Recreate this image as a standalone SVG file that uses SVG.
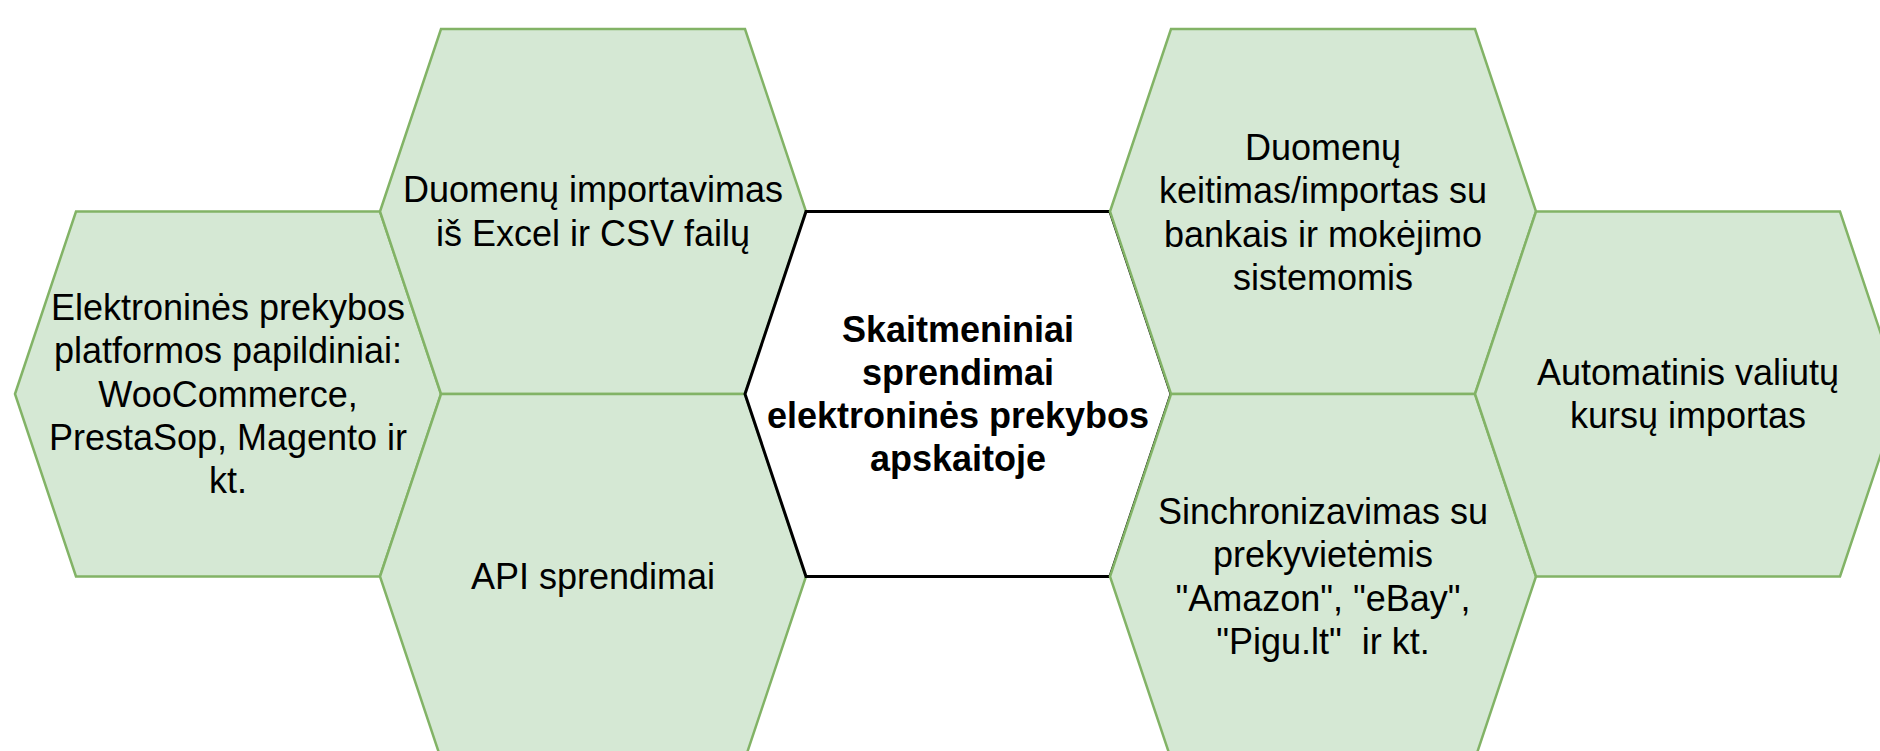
<svg xmlns="http://www.w3.org/2000/svg" width="1880" height="751" viewBox="0 0 1880 751">
<style>
.hex{fill:#d5e8d4;stroke:#82b366;stroke-width:2.5;stroke-linejoin:miter}
.core{fill:#ffffff;stroke:#000000;stroke-width:3;stroke-linejoin:miter}
text{font-family:"Liberation Sans",Arial,Helvetica,sans-serif;font-size:36px;fill:#000000;text-anchor:middle;white-space:pre}
.b{font-weight:bold}
</style>
<rect x="0" y="0" width="1880" height="751" fill="#ffffff"/>
<g id="connectors"/>
<g id="node-plugins">
<polygon class="hex" points="15,394 76,211.5 380,211.5 441,394 380,576.5 76,576.5"/>
<text x="228" y="320.1">Elektroninės prekybos</text>
<text x="228" y="363.3">platformos papildiniai:</text>
<text x="228" y="406.5">WooCommerce,</text>
<text x="228" y="449.7">PrestaSop, Magento ir</text>
<text x="228" y="492.9">kt.</text>
</g>
<g id="node-excel">
<polygon class="hex" points="380,211.5 441,29 745,29 806,211.5 745,394 441,394"/>
<text x="593" y="202.4">Duomenų importavimas</text>
<text x="593" y="245.6">iš Excel ir CSV failų</text>
</g>
<g id="node-api">
<polygon class="hex" points="380,576.5 441,394 745,394 806,576.5 745,759 441,759"/>
<text x="593" y="589">API sprendimai</text>
</g>
<g id="node-center">
<polygon class="core" points="745,394 806,211.5 1110,211.5 1171,394 1110,576.5 806,576.5"/>
<text class="b" x="958" y="341.7">Skaitmeniniai</text>
<text class="b" x="958" y="384.9">sprendimai</text>
<text class="b" x="958" y="428.1">elektroninės prekybos</text>
<text class="b" x="958" y="471.3">apskaitoje</text>
</g>
<g id="node-banks">
<polygon class="hex" points="1110,211.5 1171,29 1475,29 1536,211.5 1475,394 1171,394"/>
<text x="1323" y="160.2">Duomenų</text>
<text x="1323" y="203.4">keitimas/importas su</text>
<text x="1323" y="246.6">bankais ir mokėjimo</text>
<text x="1323" y="289.8">sistemomis</text>
</g>
<g id="node-marketplaces">
<polygon class="hex" points="1110,576.5 1171,394 1475,394 1536,576.5 1475,759 1171,759"/>
<text x="1323" y="524.2">Sinchronizavimas su</text>
<text x="1323" y="567.4">prekyvietėmis</text>
<text x="1323" y="610.6">"Amazon", "eBay",</text>
<text x="1323" y="653.8">"Pigu.lt"  ir kt.</text>
</g>
<g id="node-currency">
<polygon class="hex" points="1475,394 1536,211.5 1840,211.5 1901,394 1840,576.5 1536,576.5"/>
<text x="1688" y="384.9">Automatinis valiutų</text>
<text x="1688" y="428.1">kursų importas</text>
</g>
</svg>
